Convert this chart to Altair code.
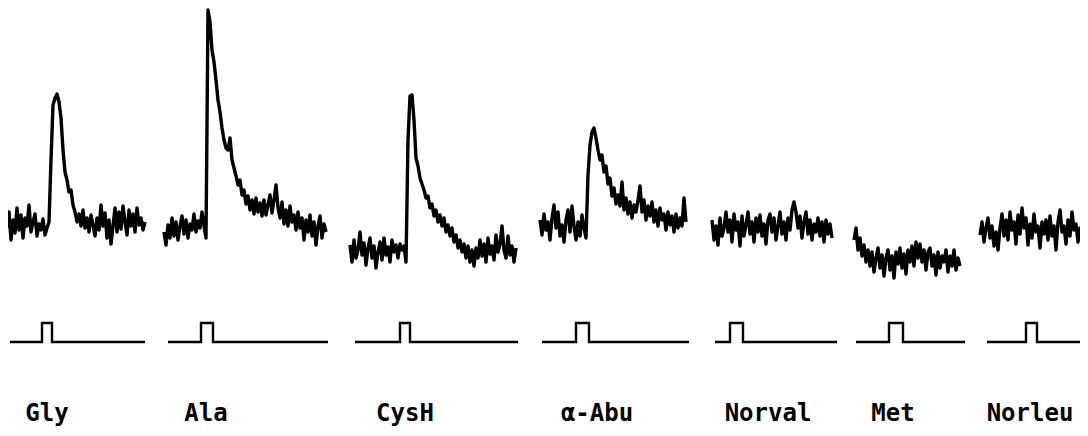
import altair as alt
import pandas as pd

# ---- response traces (x start, step; y readings in figure units, down = larger) ----
names = ["Gly", "Ala", "CysH", "α-Abu", "Norval", "Met", "Norleu"]
trace_start = [7, 164, 350, 540, 712, 854, 980]
trace_step = 2

gly = [228, 212, 240, 220, 233, 208, 230, 215, 238, 218, 226, 205, 232, 222, 214, 236, 224, 230, 219, 235,
       228, 222, 160, 105, 98, 94, 102, 118, 150, 172, 180, 192, 190, 205, 212, 222, 214, 226, 210, 228,
       218, 232, 215, 225, 236, 218, 230, 205, 226, 213, 238, 220, 244, 226, 208, 232, 212, 229, 206, 222,
       235, 210, 226, 214, 232, 208, 225, 218, 230, 222]
ala = [232, 245, 225, 238, 218, 236, 222, 240, 226, 216, 234, 220, 238, 224, 230, 214, 232, 221, 228, 212,
       226, 238, 10, 22, 50, 62, 80, 100, 112, 128, 140, 148, 150, 138, 160, 168, 176, 185, 180, 195,
       190, 204, 196, 210, 200, 214, 198, 212, 203, 216, 200, 215, 205, 195, 213, 200, 185, 208, 218, 202,
       224, 210, 226, 206, 222, 215, 230, 212, 228, 218, 240, 220, 232, 215, 236, 222, 245, 226, 216, 238,
       224, 232]
cysh = [245, 262, 240, 258, 250, 232, 255, 243, 265, 248, 238, 258, 246, 268, 252, 242, 260, 238, 255, 247,
        262, 240, 252, 245, 258, 244, 250, 246, 262, 140, 96, 95, 120, 158, 166, 178, 184, 190, 198, 196,
        208, 204, 216, 210, 222, 215, 226, 218, 232, 225, 236, 228, 242, 235, 248, 240, 252, 244, 258, 246,
        262, 250, 266, 248, 258, 240, 256, 244, 262, 238, 254, 246, 260, 235, 252, 244, 226, 250, 258, 236,
        255, 246, 262, 248]
abu = [220, 235, 214, 230, 222, 240, 218, 205, 228, 212, 236, 225, 242, 220, 210, 232, 206, 226, 240, 222,
       236, 215, 228, 238, 175, 145, 132, 128, 138, 150, 160, 155, 172, 166, 184, 178, 196, 188, 204, 195,
       206, 182, 210, 198, 214, 202, 218, 205, 212, 200, 186, 212, 200, 220, 206, 216, 202, 222, 210, 226,
       208, 220, 214, 230, 212, 225, 216, 232, 214, 228, 218, 226, 198, 222]
norval = [220, 240, 226, 245, 218, 236, 228, 212, 232, 220, 242, 214, 230, 222, 246, 216, 236, 225, 212, 234,
          222, 242, 218, 232, 215, 236, 224, 244, 220, 214, 232, 218, 240, 226, 212, 234, 222, 240, 218, 230,
          210, 202, 212, 228, 216, 238, 222, 212, 234, 220, 240, 224, 232, 218, 236, 222, 242, 220, 234, 224,
          238]
met = [240, 228, 250, 238, 256, 245, 262, 250, 266, 252, 272, 258, 248, 268, 255, 276, 258, 250, 270, 256,
       278, 252, 264, 248, 268, 254, 274, 250, 262, 246, 266, 242, 258, 244, 262, 250, 270, 252, 248, 266,
       255, 275, 252, 268, 256, 262, 250, 272, 256, 266, 250, 270, 258, 266]
norleu = [235, 222, 242, 228, 218, 238, 226, 246, 232, 250, 228, 214, 236, 220, 240, 212, 230, 222, 244, 215,
          234, 208, 228, 218, 245, 224, 238, 214, 232, 226, 248, 222, 234, 220, 240, 216, 236, 226, 250, 222,
          210, 232, 226, 244, 220, 236, 212, 230, 224, 242, 228, 238]
traces = [gly, ala, cysh, abu, norval, met, norleu]

# ---- stimulus (pulse) traces ----
pulse_start = [10, 168, 355, 542, 715, 856, 987]
pulse_on = [42, 201, 400, 576, 730, 889, 1026]
pulse_off = [52, 213, 410, 589, 743, 903, 1037]
pulse_end = [145, 328, 518, 689, 837, 965, 1080]
pulse_base = 342
pulse_top = 323

# ---- labels ----
label_x = [47, 206, 405, 597, 768, 893, 1030]
label_y = 421

rows = []
for n, s, ys in zip(names, trace_start, traces):
    for i, v in enumerate(ys):
        rows.append({"trace": n, "x": s + trace_step * i, "y": v, "o": i})
trace_df = pd.DataFrame(rows)

prow = []
for n, a, b, c, d in zip(names, pulse_start, pulse_on, pulse_off, pulse_end):
    pts = [(a, pulse_base), (b, pulse_base), (b, pulse_top), (c, pulse_top), (c, pulse_base), (d, pulse_base)]
    for i, (px, py) in enumerate(pts):
        prow.append({"trace": n, "x": px, "y": py, "o": i})
pulse_df = pd.DataFrame(prow)

label_df = pd.DataFrame({"label": names, "x": label_x, "y": [label_y] * len(names)})

xs = alt.Scale(domain=[8, 1080], nice=False, zero=False)
ys = alt.Scale(domain=[8, 428], nice=False, zero=False, reverse=True)

lines = alt.Chart(trace_df).mark_line(color="black", strokeWidth=3.4, strokeJoin="round",
                                      clip=False).encode(
    x=alt.X("x:Q", scale=xs, axis=None),
    y=alt.Y("y:Q", scale=ys, axis=None),
    detail="trace:N",
    order="o:Q",
)

pulses = alt.Chart(pulse_df).mark_line(color="black", strokeWidth=2.4, clip=False).encode(
    x=alt.X("x:Q", scale=xs, axis=None),
    y=alt.Y("y:Q", scale=ys, axis=None),
    detail="trace:N",
    order="o:Q",
)

labels = alt.Chart(label_df).mark_text(
    font="DejaVu Sans Mono", fontSize=24, fontWeight="bold", color="black",
    align="center", baseline="alphabetic",
).encode(
    x=alt.X("x:Q", scale=xs, axis=None),
    y=alt.Y("y:Q", scale=ys, axis=None),
    text="label:N",
)

chart = (lines + pulses + labels).properties(
    width=1072, height=420, padding=0, background="white",
    autosize=alt.AutoSizeParams(type="none"),
).configure_view(stroke=None)

chart.save("out.html", embed_options={"renderer": "svg", "actions": False})
